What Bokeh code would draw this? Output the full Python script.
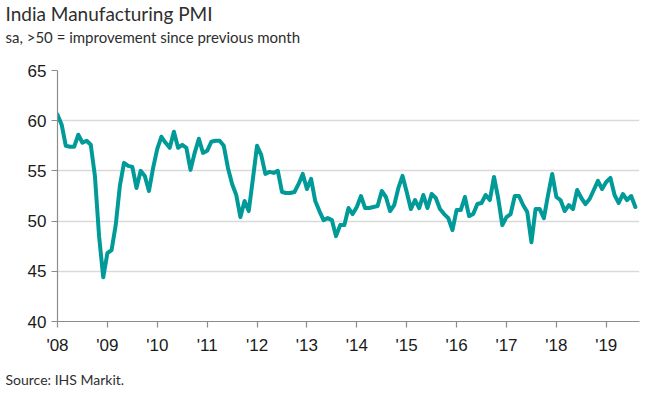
from bokeh.plotting import figure
from bokeh.models import Title, FixedTicker, Range1d
from bokeh.embed import file_html
from bokeh.resources import INLINE

# India Manufacturing PMI, monthly, Jan 2008 - Aug 2019 (sa)
pmi_2008 = [60.6, 59.6, 57.5, 57.4, 57.4, 58.6, 57.8, 58.0, 57.6, 54.5, 48.5, 44.4]
pmi_2009 = [46.8, 47.1, 49.6, 53.5, 55.8, 55.5, 55.4, 53.3, 55.0, 54.5, 53.0, 55.3]
pmi_2010 = [57.2, 58.4, 57.8, 57.3, 58.9, 57.3, 57.6, 57.3, 55.1, 56.8, 58.2, 56.8]
pmi_2011 = [57.0, 57.9, 58.0, 58.0, 57.5, 55.3, 53.7, 52.6, 50.4, 52.0, 51.0, 54.2]
pmi_2012 = [57.5, 56.6, 54.7, 54.9, 54.8, 55.0, 52.9, 52.8, 52.8, 52.9, 53.7, 54.7]
pmi_2013 = [53.2, 54.2, 52.0, 51.0, 50.1, 50.3, 50.1, 48.5, 49.6, 49.6, 51.3, 50.7]
pmi_2014 = [51.4, 52.5, 51.3, 51.3, 51.4, 51.5, 53.0, 52.4, 51.0, 51.6, 53.3, 54.5]
pmi_2015 = [52.9, 51.2, 52.1, 51.3, 52.6, 51.3, 52.7, 52.3, 51.2, 50.7, 50.3, 49.1]
pmi_2016 = [51.1, 51.1, 52.4, 50.5, 50.7, 51.7, 51.8, 52.6, 52.1, 54.4, 52.3, 49.6]
pmi_2017 = [50.4, 50.7, 52.5, 52.5, 51.6, 50.9, 47.9, 51.2, 51.2, 50.3, 52.6, 54.7]
pmi_2018 = [52.4, 52.1, 51.0, 51.6, 51.2, 53.1, 52.3, 51.7, 52.2, 53.1, 54.0, 53.2]
pmi_2019 = [53.9, 54.3, 52.6, 51.8, 52.7, 52.1, 52.5, 51.4]

year_labels = ["'08", "'09", "'10", "'11", "'12", "'13", "'14", "'15", "'16", "'17", "'18", "'19"]
y_ticks = [40, 45, 50, 55, 60, 65]

title_text = "India Manufacturing PMI"
subtitle_text = "sa, >50 = improvement since previous month"
source_text = "Source: IHS Markit."

values = (pmi_2008 + pmi_2009 + pmi_2010 + pmi_2011 + pmi_2012 + pmi_2013 +
          pmi_2014 + pmi_2015 + pmi_2016 + pmi_2017 + pmi_2018 + pmi_2019)
months = list(range(len(values)))
x_ticks = [12 * i for i in range(len(year_labels))]

p = figure(width=657, height=398, output_backend="svg", toolbar_location=None,
           x_range=Range1d(0, 140), y_range=Range1d(40, 65),
           min_border_left=57, min_border_right=18, min_border_top=69,
           min_border_bottom=76)
p.outline_line_color = None
p.background_fill_color = "white"
p.border_fill_color = "white"

p.xgrid.visible = False
p.ygrid.grid_line_color = "#d9d9d9"
p.ygrid.grid_line_width = 1.5

for ax in (p.xaxis[0], p.yaxis[0]):
    ax.axis_line_color = "#8c8c8c"
    ax.axis_line_width = 1.2
    ax.major_tick_line_color = "#8c8c8c"
    ax.major_tick_line_width = 1.2
    ax.major_tick_in = 0
    ax.major_tick_out = 6
    ax.minor_tick_line_color = None
    ax.major_label_text_font = "Liberation Sans"
    ax.major_label_text_font_size = "17px"
    ax.major_label_text_color = "#1a1a1a"

p.yaxis.ticker = FixedTicker(ticks=y_ticks)
p.yaxis.major_label_standoff = 5
p.xaxis.ticker = FixedTicker(ticks=x_ticks)
p.xaxis.major_label_overrides = {t: lab for t, lab in zip(x_ticks, year_labels)}
p.xaxis.major_label_standoff = 8

p.line(months, values, line_color="#009a98", line_width=4,
       line_join="round", line_cap="round")

p.add_layout(Title(text=subtitle_text, align="left", offset=-52,
                   text_font="Lato", text_font_size="15px", text_font_style="normal",
                   text_color="#2e2e2e", standoff=50), "above")
p.add_layout(Title(text=title_text, align="left", offset=-52,
                   text_font="Lato", text_font_size="19px", text_font_style="normal",
                   text_color="#2e2e2e", standoff=-49), "above")
p.add_layout(Title(text=source_text, align="left", offset=-52,
                   text_font="Lato", text_font_size="14px", text_font_style="normal",
                   text_color="#2e2e2e", standoff=22), "below")

open("out.html", "w").write(file_html(p, INLINE))
